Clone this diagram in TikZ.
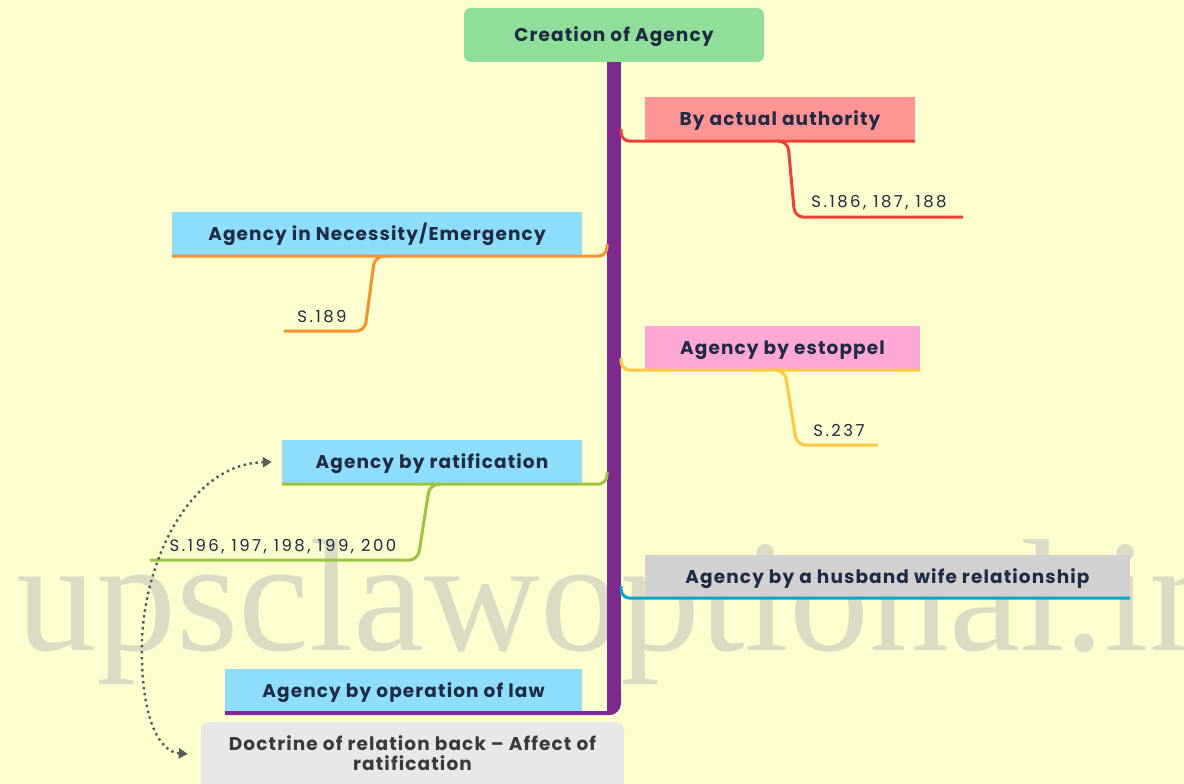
\documentclass[tikz,border=0pt]{standalone}
\usepackage{fontspec}
\setmainfont{Poppins}
\newfontfamily\boldlabel{Poppins}[LetterSpace=6]
\newfontfamily\sublabelfont{Poppins}[LetterSpace=15]
\newfontfamily\wmfont{Liberation Serif}
\usetikzlibrary{arrows.meta,calc}

\definecolor{bgc}{HTML}{FFFECE}
\definecolor{wmc}{HTML}{DCDBC4}
\definecolor{titlec}{HTML}{8FDE9A}
\definecolor{trunkc}{HTML}{7D2A8F}
\definecolor{redf}{HTML}{FF9494}
\definecolor{redl}{HTML}{EE4035}
\definecolor{bluef}{HTML}{8EDDFA}
\definecolor{orangel}{HTML}{F7932E}
\definecolor{pinkf}{HTML}{FFA8D6}
\definecolor{yellowl}{HTML}{FFC843}
\definecolor{limel}{HTML}{9CC443}
\definecolor{greyf}{HTML}{D1D1D1}
\definecolor{cyanl}{HTML}{04A7CF}
\definecolor{docf}{HTML}{E8E8E8}
\definecolor{txt}{HTML}{1F2A44}
\definecolor{doctxt}{HTML}{3A3A3A}
\definecolor{dotc}{HTML}{5A5A5A}

\tikzset{
  box/.style={minimum height=44pt, inner sep=0pt, text=txt, text height=13pt, text depth=0pt,
    font=\boldlabel\fontsize{18.5}{20}\selectfont\bfseries},
  sublabel/.style={inner sep=0pt, text=txt, text height=11.5pt, text depth=0pt,
    font=\sublabelfont\fontsize{16.5}{19}\selectfont},
  branch/.style={line width=3pt, rounded corners=9pt},
  linker/.style={line width=2.4pt, dotc, dash pattern=on 2.4pt off 3.6pt,
    {Triangle[width=10pt,length=9pt]}-{Triangle[width=10pt,length=9pt]}},
}

\begin{document}
\begin{tikzpicture}[x=1pt,y=-1pt]
\useasboundingbox (0,0) rectangle (1184,784);
\fill[bgc] (0,0) rectangle (1184,784);
\clip (0,0) rectangle (1184,784);

% watermark behind everything
\node[anchor=base west, inner sep=0pt, text=wmc,
  font=\wmfont\fontsize{160}{160}\selectfont] (wm) at (16,650) {upsclawoptional.in};

% central topic
\node[box, fill=titlec, rounded corners=7pt, minimum width=300pt, minimum height=54pt]
  (title) at (614,35) {Creation of Agency};

% main branches
\node[box, fill=redf,   minimum width=270pt] (auth)  at (780,119)   {By actual authority};
\node[box, fill=bluef,  minimum width=410pt] (need)  at (377,234)   {Agency in Necessity/Emergency};
\node[box, fill=pinkf,  minimum width=275pt] (estop) at (782.5,348) {Agency by estoppel};
\node[box, fill=bluef,  minimum width=300pt] (ratif) at (432,462)   {Agency by ratification};
\node[box, fill=greyf,  minimum width=485pt, minimum height=43pt] (husb) at (887.5,576.5) {Agency by a husband wife relationship};
\node[box, fill=bluef,  minimum width=357pt, minimum height=43pt] (oplaw) at (403.5,690.5) {Agency by operation of law};

% note box, running past the lower edge
\node[fill=docf, rounded corners=8pt, minimum width=423pt, inner xsep=0pt, inner ysep=13pt,
  text=doctxt, align=center, anchor=north,
  font=\boldlabel\fontsize{18.5}{20}\selectfont\bfseries] (doct) at (412.5,722)
  {Doctrine of relation back – Affect of\\ratification\rule[-24pt]{0pt}{24pt}};

% section labels
\node[sublabel] (s1) at (879,201.5) {S.186, 187, 188};
\node[sublabel] (s2) at (322,316.5) {S.189};
\node[sublabel] (s3) at (839,430.5) {S.237};
\node[sublabel] (s4) at (283,545.5) {S.196, 197, 198, 199, 200};

% trunk
\coordinate (trR) at ($(title.south)+(7,0)$);
\coordinate (trL) at ($(title.south)+(-7,0)$);
\fill[trunkc] (trL) rectangle ($(trR |- oplaw.south)+(0,-9)$);
\fill[trunkc] ($(trL |- oplaw.south)+(0,-12)$) rectangle ($(trR |- oplaw.south)+(-4,0)$);
\draw[trunkc, line width=4pt, rounded corners=10pt]
  ($(trR |- oplaw.south)+(-2,-20)$) -- ($(trR |- oplaw.south)+(-2,1)$) -- ($(oplaw.south west)+(0,1)$);

% right-hand connectors
\draw[branch, redl] ($(trR |- auth.south)+(0,-12)$) |- (auth.south west) -- (auth.south east);
\draw[branch, yellowl] ($(trR |- estop.south)+(0,-12)$) |- (estop.south west) -- (estop.south east);
\draw[branch, cyanl] ($(trR |- husb.south)+(0,-12)$) |- (husb.south west) -- (husb.south east);

% left-hand connectors
\draw[branch, orangel] (need.south west) -- (need.south east) -| ($(trL |- need.south)+(0,-12)$);
\draw[branch, limel] (ratif.south west) -- (ratif.south east) -| ($(trL |- ratif.south)+(0,-12)$);

% section sub-branches
\draw[branch, redl] ($(auth.south west)+(133,0)$) -- ($(auth.south west)+(143,0)$)
  -- ($(auth.south west)+(150,76)$) -- ($(auth.south west)+(318,76)$);
\draw[branch, orangel] ($(need.south west)+(213,0)$) -- ($(need.south west)+(203,0)$)
  -- ($(need.south west)+(193,75)$) -- ($(need.south west)+(112,75)$);
\draw[branch, yellowl] ($(estop.south west)+(130,0)$) -- ($(estop.south west)+(140,0)$)
  -- ($(estop.south west)+(152,75)$) -- ($(estop.south west)+(233,75)$);
\draw[branch, limel] ($(ratif.south west)+(158,0)$) -- ($(ratif.south west)+(148,0)$)
  -- ($(ratif.south west)+(136,76)$) -- ($(ratif.south west)+(-132,76)$);

% dotted link between the note and ratification
\draw[linker] ($(doct.north west)+(-13,32)$) .. controls (160,752) and (140,720) .. (142,640)
  .. controls (145,560) and (190,464) .. ($(ratif.west)+(-10,0)$);
\end{tikzpicture}
\end{document}
